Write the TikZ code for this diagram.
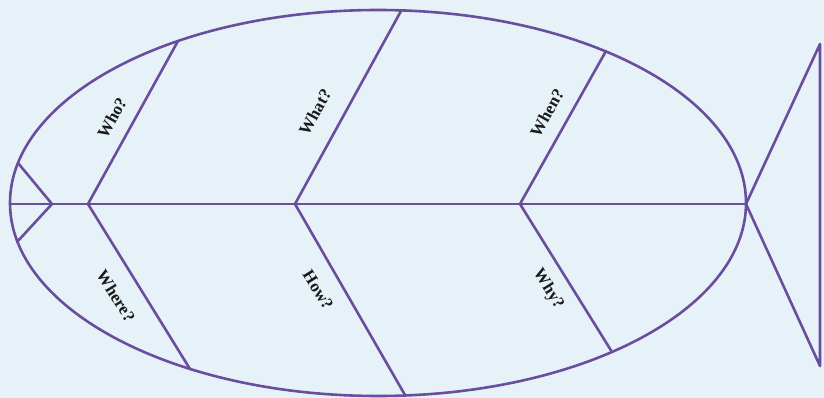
\documentclass[tikz,border=0pt]{standalone}
\usepackage{fontspec}
\setmainfont{Liberation Serif}
\usetikzlibrary{positioning}
\definecolor{bone}{HTML}{6A4E9E}
\definecolor{paper}{HTML}{E6F2F8}
\definecolor{ink}{HTML}{1A1A1A}

\begin{document}
\begin{tikzpicture}[
  x=1pt,
  y=-1pt,
  fishline/.style={draw=bone,line width=2.6pt,line cap=round,line join=round},
  question/.style={font=\fontsize{17}{19}\selectfont\bfseries,text=ink,inner sep=1pt},
  up/.style={question,rotate=61},
  down/.style={question,rotate=-58}
]
  \path[fill=paper] (0,0) rectangle (824,398);
  \useasboundingbox (0,0) rectangle (824,398);

  % body and spine
  \coordinate (mouth) at (10,204);
  \coordinate (tip) at (746,204);
  \draw[fishline] (378,203) ellipse [x radius=368pt,y radius=193pt];
  \draw[fishline] (mouth) -- (tip);

  % head
  \coordinate (gill) at (52,204);
  \coordinate (gill-a) at (18,163);
  \coordinate (gill-b) at (17,242);
  \draw[fishline] (gill-a) -- (gill) -- (gill-b);

  % tail
  \coordinate (tail-a) at (820,44);
  \coordinate (tail-b) at (820,366);
  \draw[fishline] (tip) -- (tail-a) -- (tail-b) -- cycle;

  % bones
  \coordinate (j1) at (88,204);
  \coordinate (j2) at (295,204);
  \coordinate (j3) at (520,204);
  \coordinate (who-end) at (178,41);
  \coordinate (where-end) at (190,369);
  \coordinate (what-end) at (401,11);
  \coordinate (how-end) at (405,395);
  \coordinate (when-end) at (606,51);
  \coordinate (why-end) at (612,352);
  \draw[fishline] (j1) -- (who-end);
  \draw[fishline] (j1) -- (where-end);
  \draw[fishline] (j2) -- (what-end);
  \draw[fishline] (j2) -- (how-end);
  \draw[fishline] (j3) -- (when-end);
  \draw[fishline] (j3) -- (why-end);

  % labels
  \node[up] (who) at (112,118) {Who?};
  \node[up] (what) at (315,112) {What?};
  \node[up] (when) at (547,113) {When?};
  \node[down] (where) at (116,296) {Where?};
  \node[down] (how) at (318,290) {How?};
  \node[down] (why) at (548,289) {Why?};
\end{tikzpicture}
\end{document}
